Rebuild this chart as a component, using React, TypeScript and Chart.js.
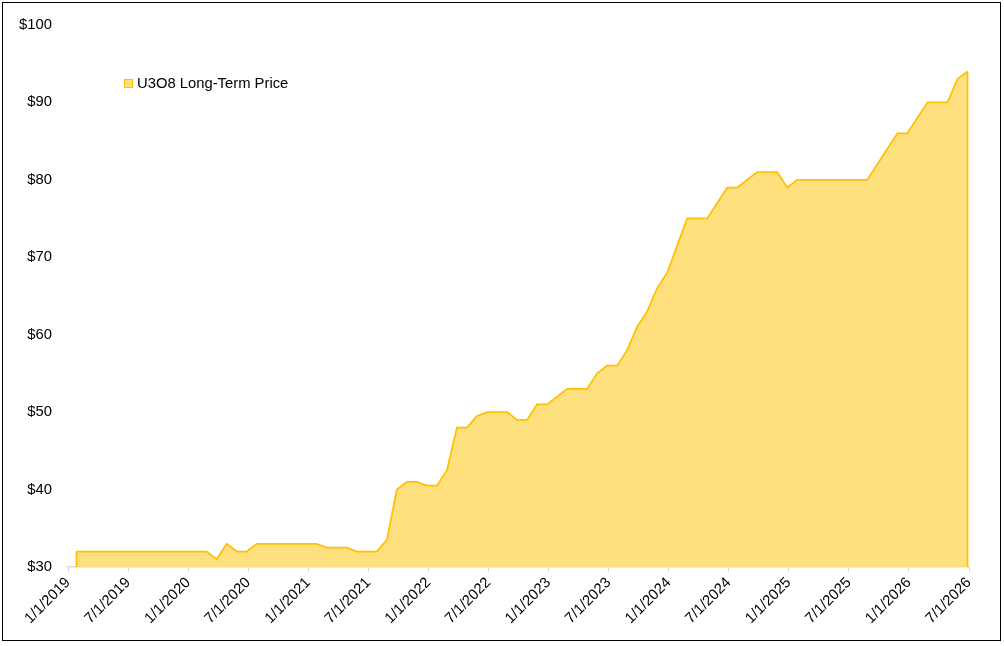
import { useEffect, useRef } from 'react';
import { Chart, registerables } from 'chart.js';

Chart.register(...registerables);

// monthly U3O8 long-term price readings, Jan 2019 .. Jun 2026
const startYear = 2019;
const prices = [
  32, 32, 32, 32, 32, 32, 32, 32, 32, 32, 32, 32,
  32, 32, 31, 33, 32, 32, 33, 33, 33, 33, 33, 33,
  33, 32.5, 32.5, 32.5, 32, 32, 32, 33.5, 40, 41, 41, 40.5,
  40.5, 42.5, 48, 48, 49.5, 50, 50, 50, 49, 49, 51, 51,
  52, 53, 53, 53, 55, 56, 56, 58, 61, 63, 66, 68,
  71.5, 75, 75, 75, 77, 79, 79, 80, 81, 81, 81, 79,
  80, 80, 80, 80, 80, 80, 80, 80, 82, 84, 86, 86,
  88, 90, 90, 90, 93, 94,
];
const seriesLabel = 'U3O8 Long-Term Price';
// readings are taken late in each month
const readingOffset = 0.85;
const yTicks = [30, 40, 50, 60, 70, 80, 90, 100];
const monthStep = 6;
const totalMonths = 90;

const fillColor = '#FFE07F';
const lineColor = '#FFC000';
const fontFamily = '"Liberation Sans", Arial, sans-serif';
const fontSize = 14.8;

function monthLabel(m: number) {
  const month = (m % 12) + 1;
  const year = startYear + Math.floor(m / 12);
  return `${month}/1/${year}`;
}

// Excel draws the outline down to the axis at both ends of the area
const edgeLines = {
  id: 'edgeLines',
  afterDatasetsDraw(chart: any) {
    const meta = chart.getDatasetMeta(0);
    const pts = meta.data;
    if (!pts.length) return;
    const { ctx, chartArea } = chart;
    ctx.save();
    ctx.strokeStyle = lineColor;
    ctx.lineWidth = 1.75;
    for (const p of [pts[0], pts[pts.length - 1]]) {
      ctx.beginPath();
      ctx.moveTo(p.x, p.y);
      ctx.lineTo(p.x, chartArea.bottom);
      ctx.stroke();
    }
    ctx.restore();
  },
};

function PriceChart() {
  const canvasRef = useRef<HTMLCanvasElement>(null);

  useEffect(() => {
    const canvas = canvasRef.current;
    if (!canvas) return;
    Chart.defaults.font.family = fontFamily;
    const chart = new Chart(canvas, {
      type: 'line',
      data: {
        datasets: [{
          label: seriesLabel,
          data: prices.map((v, i) => ({ x: i + readingOffset, y: v })),
          borderColor: lineColor,
          backgroundColor: fillColor,
          borderWidth: 1.75,
          fill: 'start',
          pointRadius: 0,
          tension: 0,
        }],
      },
      options: {
        animation: false,
        responsive: true,
        maintainAspectRatio: false,
        layout: { padding: { top: 24, right: 35, bottom: 0, left: 0 } },
        plugins: {
          legend: { display: false },
          tooltip: { enabled: false },
        },
        scales: {
          x: {
            type: 'linear',
            min: 0,
            max: totalMonths,
            afterFit: (scale: any) => { scale.height = 79; },
            afterBuildTicks: (scale: any) => {
              const ticks = [];
              for (let m = 0; m <= totalMonths; m += monthStep) ticks.push({ value: m });
              scale.ticks = ticks;
            },
            ticks: {
              autoSkip: false,
              maxRotation: 45,
              minRotation: 45,
              color: '#000',
              font: { size: fontSize },
              padding: 2,
              callback: (v: any) => monthLabel(Number(v)),
            },
            grid: {
              display: true,
              drawOnChartArea: false,
              drawTicks: true,
              tickLength: 5,
              color: '#d9d9d9',
            },
            border: { display: true, color: '#d9d9d9', width: 1.5 },
          },
          y: {
            min: yTicks[0],
            max: yTicks[yTicks.length - 1],
            afterFit: (scale: any) => { scale.width = 68; },
            afterBuildTicks: (scale: any) => {
              scale.ticks = yTicks.map((v) => ({ value: v }));
            },
            ticks: {
              color: '#000',
              font: { size: fontSize },
              padding: 16,
              callback: (v: any) => `$${v}`,
            },
            grid: { display: false, drawTicks: false },
            border: { display: false },
          },
        },
      },
      plugins: [edgeLines],
    });
    return () => {
      chart.destroy();
    };
  }, []);

  return <canvas ref={canvasRef} />;
}

export default function App() {
  useEffect(() => {
    document.body.style.margin = '0';
  }, []);

  return (
    <div style={{ position: 'relative', width: 1004, height: 646, background: '#fff' }}>
      <div
        style={{
          position: 'absolute', left: 2, top: 2, width: 997, height: 637,
          border: '1px solid #000', pointerEvents: 'none',
        }}
      />
      <div style={{ position: 'absolute', left: 0, top: 0, width: 1004, height: 646 }}>
        <PriceChart />
      </div>
      <div
        style={{
          position: 'absolute', left: 124, top: 75, display: 'flex', alignItems: 'center',
          fontFamily, fontSize, lineHeight: '16px', color: '#000',
        }}
      >
        <span
          style={{
            display: 'inline-block', width: 7, height: 7, marginRight: 4,
            background: fillColor, border: `1.5px solid ${lineColor}`,
          }}
        />
        <span>{seriesLabel}</span>
      </div>
    </div>
  );
}
